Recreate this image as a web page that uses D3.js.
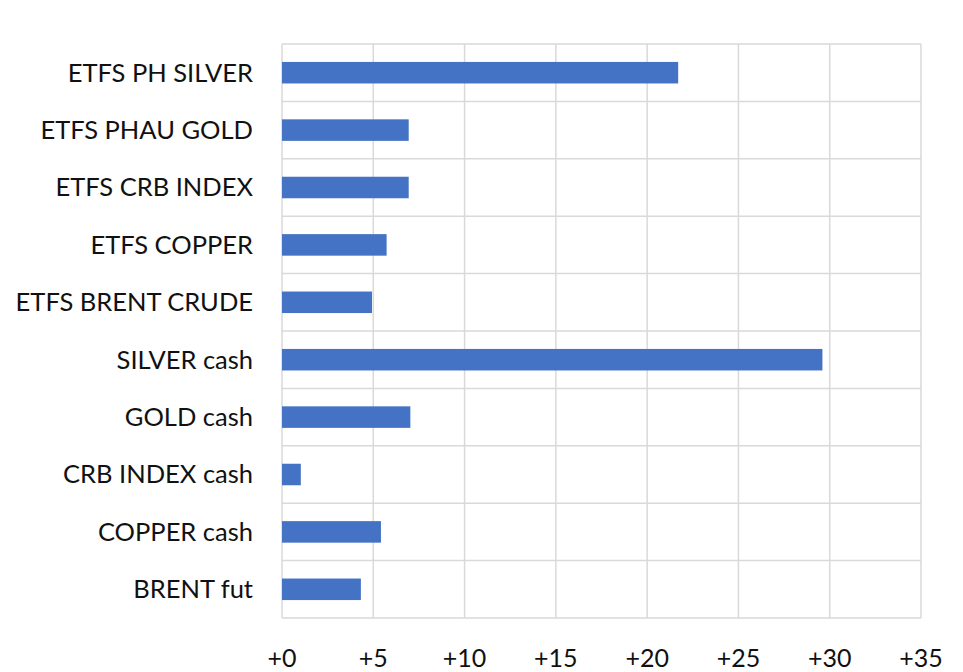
<!DOCTYPE html>
<html>
<head>
<meta charset="utf-8">
<script src="https://cdn.jsdelivr.net/npm/d3@7"></script>
<style>
	body { margin: 0; background: #fff; }
	text { font-family: Lato, "Open Sans", sans-serif; fill: #111; }
</style>
</head>
<body>
<svg id="chart"></svg>
<script>
// categories, top to bottom
var categories = [
	'ETFS PH SILVER',
	'ETFS PHAU GOLD',
	'ETFS CRB INDEX',
	'ETFS COPPER',
	'ETFS BRENT CRUDE',
	'SILVER cash',
	'GOLD cash',
	'CRB INDEX cash',
	'COPPER cash',
	'BRENT fut'
];
var values = [21.7, 6.94, 6.94, 5.73, 4.93, 29.6, 7.03, 1.03, 5.42, 4.32];
var xTicks = [0, 5, 10, 15, 20, 25, 30, 35];

var width = 963, height = 672;
var margin = { top: 44, right: 42, bottom: 54, left: 282 };

var svg = d3.select('#chart')
	.attr('width', width)
	.attr('height', height);

var x = d3.scaleLinear()
	.domain([0, 35])
	.range([margin.left, width - margin.right]);

var y = d3.scaleBand()
	.domain(categories)
	.range([margin.top, height - margin.bottom])
	.paddingInner(0.625)
	.paddingOuter(0.3125);

var rows = d3.scaleBand()
	.domain(categories)
	.range([margin.top, height - margin.bottom]);

// grid
var grid = svg.append('g').attr('stroke', '#d9d9d9').attr('stroke-width', 1.5);
grid.selectAll('.vline')
	.data(xTicks)
	.enter().append('line')
	.attr('x1', function (d) { return x(d); })
	.attr('x2', function (d) { return x(d); })
	.attr('y1', margin.top)
	.attr('y2', height - margin.bottom);
var hPos = categories.map(function (c) { return rows(c); });
hPos.push(height - margin.bottom);
grid.selectAll('.hline')
	.data(hPos)
	.enter().append('line')
	.attr('x1', x(0))
	.attr('x2', x(35))
	.attr('y1', function (d) { return d; })
	.attr('y2', function (d) { return d; });

// bars
svg.append('g').selectAll('rect')
	.data(categories)
	.enter().append('rect')
	.attr('x', x(0))
	.attr('y', function (d) { return y(d); })
	.attr('width', function (d, i) { return x(values[i]) - x(0); })
	.attr('height', y.bandwidth())
	.attr('fill', '#4472c4');

// category labels
svg.append('g').selectAll('text')
	.data(categories)
	.enter().append('text')
	.attr('x', 253)
	.attr('y', function (d) { return rows(d) + rows.bandwidth() / 2; })
	.attr('dy', '0.35em')
	.attr('text-anchor', 'end')
	.style('font-size', '25.5px')
	.text(function (d) { return d; });

// x tick labels
svg.append('g').selectAll('text')
	.data(xTicks)
	.enter().append('text')
	.attr('x', function (d) { return x(d); })
	.attr('y', 658)
	.attr('dy', '0.35em')
	.attr('text-anchor', 'middle')
	.style('font-size', '25px')
	.text(function (d) { return '+' + d; });
</script>
</body>
</html>
